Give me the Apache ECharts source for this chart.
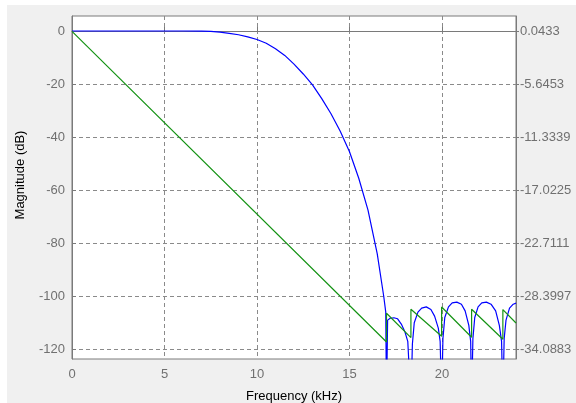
<!DOCTYPE html>
<html>
<head>
<meta charset="utf-8">
<script src="https://cdn.jsdelivr.net/npm/echarts@6/dist/echarts.min.js"></script>
<style>
  html, body { margin: 0; padding: 0; background: #fff; }
  #chart { width: 576px; height: 403px; }
</style>
</head>
<body>
<div id="chart"></div>
<script>
// frequency ticks (kHz)
var xTicks = [0, 5, 10, 15, 20];
// magnitude ticks (dB), left axis
var magTicks = [0, -20, -40, -60, -80, -100, -120];
// right axis ticks
var rightTicks = [0.0433, -5.6453, -11.3339, -17.0225, -22.7111, -28.3997, -34.0883];

// magnitude response [kHz, dB] (-140 = notch below the axis)
var magnitude = [
  [0, 0], [6, 0], [7, -0.05], [7.5, -0.15], [8, -0.45], [8.5, -0.9], [9, -1.4],
  [9.5, -2.2], [10, -3.2], [10.5, -4.6], [11, -6.7], [11.5, -9.2], [12, -12.5],
  [12.5, -16.2], [13, -20.3], [13.5, -25.5], [14, -31.2], [14.5, -37.8],
  [15, -45.5], [15.5, -55.5], [16, -67.5], [16.5, -84], [16.85, -100], [16.96, -106],
  [17.0, -140],
  [17.06, -109], [17.2, -108.3], [17.4, -108.1], [17.6, -108.5], [17.8, -110.5],
  [18.0, -113.5], [18.15, -117], [18.32, -140],
  [18.4, -118], [18.5, -110], [18.7, -106], [18.9, -104.5], [19.15, -104],
  [19.4, -105], [19.6, -107.5], [19.8, -112], [19.9, -117], [19.98, -140],
  [20.05, -116], [20.15, -108], [20.35, -104], [20.55, -102.5], [20.8, -102.2],
  [21.05, -103], [21.25, -105.5], [21.45, -111], [21.55, -117], [21.6, -140],
  [21.67, -116], [21.77, -108], [21.95, -104], [22.15, -102.5], [22.4, -102.2],
  [22.65, -103], [22.9, -105.5], [23.1, -111], [23.22, -117], [23.29, -140],
  [23.36, -116], [23.46, -109], [23.65, -104.5], [23.85, -103], [24, -102.6]
];

// phase [kHz, right axis units]
var phase = [
  [0, 0], [17.0, -33.31], [17.0, -30.22], [18.32, -32.83], [18.32, -29.80],
  [19.98, -32.69], [19.98, -29.55], [21.6, -32.80], [21.6, -29.80],
  [23.29, -33.01], [23.29, -29.83], [24, -31.27]
];

var chart = echarts.init(document.getElementById("chart"));
var labelColor = "#707070";
var frameColor = "#7a7a7a";
var font = "'Liberation Sans', Arial, sans-serif";

chart.setOption({
  backgroundColor: "#fff",
  animation: false,
  graphic: [
    {
      type: "rect",
      left: 7, top: 5, z: -10,
      shape: { width: 569, height: 398 },
      style: { fill: "#f0f0f0" }
    },
    {
      type: "text",
      x: 20, y: 175, rotation: Math.PI / 2,
      style: {
        text: "Magnitude (dB)",
        fill: "#000",
        font: "13px " + font,
        align: "center",
        verticalAlign: "middle"
      }
    }
  ],
  grid: {
    left: 72, top: 16, right: 60, bottom: 44,
    outerBoundsMode: "none",
    containLabel: false,
    show: true,
    backgroundColor: "#fff",
    borderColor: frameColor,
    borderWidth: 1
  },
  xAxis: {
    type: "value",
    min: 0, max: 24,
    name: "Frequency (kHz)",
    nameLocation: "middle",
    nameGap: 31,
    nameTextStyle: { color: "#000", fontSize: 13, fontFamily: font },
    axisLine: { lineStyle: { color: frameColor } },
    axisTick: { inside: true, length: 4, customValues: xTicks, lineStyle: { color: frameColor } },
    axisLabel: { customValues: xTicks, color: labelColor, fontSize: 13, fontFamily: font, margin: 9 },
    splitLine: { show: true, lineStyle: { color: "#8a8a8a", type: [4, 3] } }
  },
  yAxis: [
    {
      type: "value",
      min: -123.66, max: 5.66,
      axisLine: { show: true, lineStyle: { color: frameColor } },
      axisTick: { show: true, inside: true, length: 4, customValues: magTicks, lineStyle: { color: frameColor } },
      axisLabel: { customValues: magTicks, color: labelColor, fontSize: 13, fontFamily: font, margin: 7 },
      splitLine: { show: true, lineStyle: { color: "#8a8a8a", type: [4, 3] } }
    },
    {
      type: "value",
      position: "right",
      min: -35.130, max: 1.653,
      alignTicks: false,
      axisLine: { show: true, lineStyle: { color: frameColor } },
      axisTick: { show: true, length: 3, customValues: rightTicks, lineStyle: { color: frameColor } },
      axisLabel: {
        customValues: rightTicks,
        color: labelColor, fontSize: 13, fontFamily: font, margin: 4,
        formatter: function (v) { return v.toFixed(4); }
      },
      splitLine: { show: false }
    }
  ],
  series: [
    {
      name: "Magnitude",
      type: "line",
      data: magnitude,
      yAxisIndex: 0,
      symbol: "none",
      clip: true,
      lineStyle: { color: "#0000ff", width: 1.2 }
    },
    {
      name: "Phase",
      type: "line",
      data: phase,
      yAxisIndex: 1,
      symbol: "none",
      clip: true,
      lineStyle: { color: "#159315", width: 1.2 }
    }
  ]
});
</script>
</body>
</html>
